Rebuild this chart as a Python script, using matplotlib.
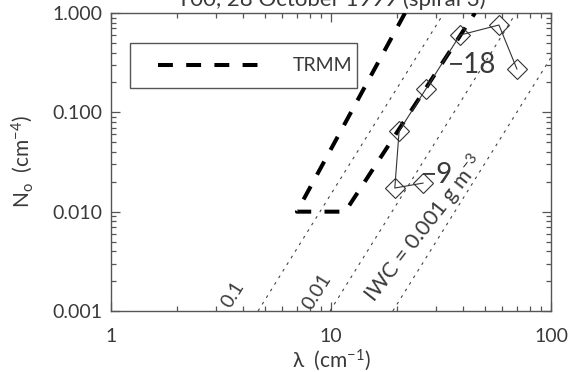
import matplotlib
matplotlib.use("Agg")
import matplotlib.pyplot as plt
import numpy as np
from matplotlib.patches import Rectangle
from matplotlib.ticker import LogLocator, NullFormatter, FixedLocator, FixedFormatter

plt.rcParams["font.family"] = ["Lato", "DejaVu Sans"]
plt.rcParams["font.weight"] = "normal"
plt.rcParams["mathtext.fontset"] = "custom"
plt.rcParams["mathtext.rm"] = "Lato"
plt.rcParams["mathtext.it"] = "Lato"
plt.rcParams["mathtext.default"] = "rm"

# ---- data ----
title = "T00, 28 October 1999 (spiral 3)"

# measured (lambda, N0) points, connected in this order
obs_lam = [26.2, 19.5, 20.4, 27.0, 38.6, 58.0, 70.0]
obs_n0 = [0.0194, 0.0173, 0.065, 0.172, 0.60, 0.757, 0.273]

# temperature labels
temp_labels = ["\u22129", "\u221218"]
temp_lam = [25.7, 34.0]
temp_n0 = [0.0235, 0.30]

# TRMM envelope (dashed polygon)
trmm_lam = [21.7, 7.0, 11.6, 45.1]
trmm_n0 = [1.0, 0.01, 0.01, 1.0]

# IWC iso-lines: lambda where each line crosses N0 = 0.001 and N0 = 1
iwc_labels = ["0.1", "0.01", "IWC = 0.001 g m$^{-3}$"]
iwc_lam_low = [4.66, 9.9, 19.1]
iwc_lam_high = [32.6, 69.3, 133.7]
iwc_n0_low = 0.001
iwc_n0_high = 1.0
iwc_label_lam = [3.585, 8.64, 26.6]
iwc_label_n0 = [0.00148, 0.00155, 0.0068]
iwc_label_size = [14, 14, 15.5]
iwc_label_rot = [58, 58, 52]

xticks = [1, 10, 100]
xticklabels = ["1", "10", "100"]
yticks = [0.001, 0.01, 0.1, 1.0]
yticklabels = ["0.001", "0.010", "0.100", "1.000"]

TXT = "#3a3a3a"
AX = "#555555"
FS = 14

fig = plt.figure(figsize=(5.76, 3.72), dpi=100)
ax = fig.add_axes([111/576, 1-311/372, 440/576, 298/372])
ax.set_xscale("log")
ax.set_yscale("log")
ax.set_xlim(1, 100)
ax.set_ylim(0.001, 1.0)

# IWC lines
for lo, hi, lab, lx, ly, fs, rot in zip(iwc_lam_low, iwc_lam_high, iwc_labels,
                                         iwc_label_lam, iwc_label_n0, iwc_label_size, iwc_label_rot):
    ax.plot([lo, hi], [iwc_n0_low, iwc_n0_high], color="#444444", lw=0.8,
            linestyle=(0, (2.5, 4.5)), zorder=2)
    ax.text(lx, ly, lab, rotation=rot, ha="center", va="center", rotation_mode="anchor",
            fontsize=fs, color=TXT, zorder=3)

# TRMM polygon
ax.plot(trmm_lam, trmm_n0, color="black", lw=2.9, linestyle=(0, (3.7, 3.3)),
        solid_capstyle="butt", dash_capstyle="butt", zorder=4)

# observations
ax.plot(obs_lam, obs_n0, color="#333333", lw=0.8, marker="D", markersize=10,
        markerfacecolor="none", markeredgecolor="#333333", markeredgewidth=0.8, zorder=5)

for t, lx, ly in zip(temp_labels, temp_lam, temp_n0):
    ax.text(lx, ly, t, ha="left", va="center", fontsize=20, color=TXT, zorder=6)

# legend box (manual, IDL style)
ax.add_patch(Rectangle((19/440, 223/298), 227/440, 45/298, transform=ax.transAxes,
                       fill=False, edgecolor=AX, lw=1.0, zorder=7))
ax.plot([47/440, 151/440], [246/298, 246/298], transform=ax.transAxes, color="black",
        lw=2.9, linestyle=(0, (3.7, 3.3)), dash_capstyle="butt", zorder=7)
ax.text(182/440, 246/298, "TRMM", transform=ax.transAxes, ha="left", va="center",
        fontsize=FS, color=TXT, zorder=7)

# axes styling
for sp in ax.spines.values():
    sp.set_color(AX)
    sp.set_linewidth(1.0)
ax.xaxis.set_major_locator(FixedLocator(xticks))
ax.xaxis.set_major_formatter(FixedFormatter(xticklabels))
ax.yaxis.set_major_locator(FixedLocator(yticks))
ax.yaxis.set_major_formatter(FixedFormatter(yticklabels))
ax.xaxis.set_minor_locator(LogLocator(base=10, subs=np.arange(2, 10)))
ax.yaxis.set_minor_locator(LogLocator(base=10, subs=np.arange(2, 10)))
ax.xaxis.set_minor_formatter(NullFormatter())
ax.yaxis.set_minor_formatter(NullFormatter())
ax.tick_params(which="both", direction="in", top=True, right=True, color=AX, width=0.9,
               labelcolor=TXT, labelsize=FS)
ax.tick_params(which="major", length=6.5)
ax.tick_params(which="minor", length=3.6)
ax.tick_params(axis="x", which="major", pad=12)
ax.tick_params(axis="y", which="major", pad=6.5)

ax.set_xlabel("\u03bb  (cm$^{-1}$)", fontsize=15, color=TXT, labelpad=2)
ax.set_ylabel("N$_o$  (cm$^{-4}$)", fontsize=15, color=TXT, labelpad=12)

fig.text(331/576, 1-6/372, title, ha="center", va="baseline", fontsize=16, color=TXT)

fig.savefig("out.png", dpi=100)
